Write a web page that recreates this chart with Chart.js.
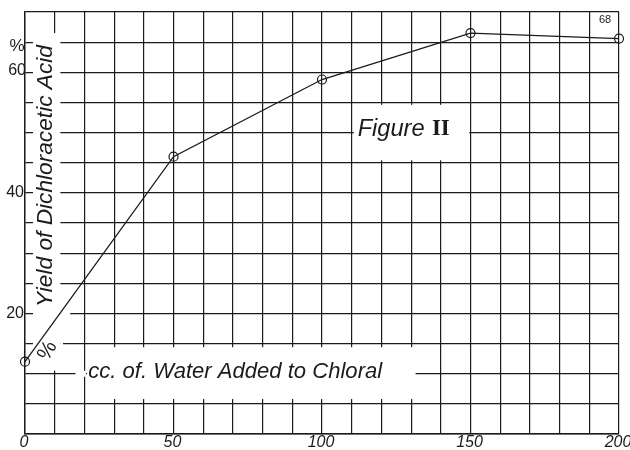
<!DOCTYPE html>
<html><head><meta charset="utf-8">
<script src="https://cdn.jsdelivr.net/npm/chart.js@4/dist/chart.umd.min.js"></script>
<style>html,body{margin:0;padding:0;background:#fff;}#wrap{width:630px;height:450px;position:relative;}</style>
</head><body><div id="wrap"><canvas id="c"></canvas></div>
<script>
// ---- data ----
const waterAdded = [0, 50, 100, 150, 200];          // cc. of water added to chloral
const yieldPct   = [12, 46, 58.8, 66.5, 65.6];      // % yield of dichloracetic acid
const xTickValues = [0, 50, 100, 150, 200];
const xTickLabels = ['0', '50', '100', '150', '200'];
const yTickValues = [20, 40, 60];
const yTickLabels = ['20', '40', '60'];
const yTitle = 'Yield of Dichloracetic Acid';
const xTitle = 'cc. of. Water Added to Chloral';
const figWord = 'Figure';
const figNumeral = 'II';
const cornerLabel = '68';
const percentSign = '%';

const INK = '#1b1b1b';
const HAND = '"Liberation Sans", "DejaVu Sans", sans-serif';

function fitFont(ctx, text, style, family, width) {
  ctx.font = style + ' 20px ' + family;
  const w = ctx.measureText(text).width;
  const size = 20 * width / w;
  ctx.font = style + ' ' + size.toFixed(2) + 'px ' + family;
  return size;
}

const paper = {
  id: 'paper',
  beforeDatasetsDraw(chart) {
    const { ctx, scales: { x, y } } = chart;
    ctx.save();
    ctx.fillStyle = '#fff';
    const blank = (x0, x1, y0, y1) => {
      const px0 = x.getPixelForValue(x0), px1 = x.getPixelForValue(x1);
      const py0 = y.getPixelForValue(y1), py1 = y.getPixelForValue(y0);
      ctx.fillRect(px0, py0, px1 - px0, py1 - py0);
    };
    blank(2.7, 11.9, 13.2, 66.5);   // band behind the vertical axis title
    blank(11.9, 15.2, 19.5, 20.5);
    blank(11.9, 12.8, 14.5, 15.5);
    blank(8.5, 11.9, 10.5, 13.3);
    blank(17, 20.5, 9.5, 10.5);
    blank(20.9, 131.5, 5.8, 14.4);  // box of the x title
    blank(110.7, 149.6, 45.4, 54.6); // box of "Figure II"
    ctx.restore();
  },
  afterDraw(chart) {
    const { ctx, chartArea, scales: { x, y } } = chart;
    ctx.save();
    ctx.fillStyle = INK;
    // y tick labels
    ctx.font = '16px ' + HAND;
    ctx.textAlign = 'right';
    ctx.textBaseline = 'middle';
    yTickValues.forEach((v, i) => {
      const dy = v === 60 ? -2 : 0;
      ctx.fillText(yTickLabels[i], chartArea.left - 1 + (v === 60 ? 2 : 0), y.getPixelForValue(v) + dy);
    });
    ctx.font = '17px ' + HAND;
    ctx.textAlign = 'center';
    ctx.fillText(percentSign, chartArea.left - 8, y.getPixelForValue(64.3));
    // x tick labels
    ctx.font = 'italic 16px ' + HAND;
    ctx.textAlign = 'center';
    ctx.textBaseline = 'middle';
    xTickValues.forEach((v, i) => {
      ctx.fillText(xTickLabels[i], x.getPixelForValue(v) - 1, chartArea.bottom + 9);
    });
    // vertical axis title
    ctx.save();
    ctx.translate(x.getPixelForValue(7.1), y.getPixelForValue(42.8));
    ctx.rotate(-Math.PI / 2);
    fitFont(ctx, yTitle, 'italic', HAND, 262);
    ctx.textAlign = 'center';
    ctx.textBaseline = 'middle';
    ctx.fillText(yTitle, 0, 0);
    ctx.restore();
    // rotated percent sign
    ctx.save();
    ctx.translate(x.getPixelForValue(7.6), y.getPixelForValue(13.8));
    ctx.rotate(-Math.PI / 3);
    ctx.font = '21px ' + HAND;
    ctx.textAlign = 'center';
    ctx.textBaseline = 'middle';
    ctx.fillText(percentSign, 0, 0);
    ctx.restore();
    // x title
    fitFont(ctx, xTitle, 'italic', HAND, 294);
    ctx.textAlign = 'left';
    ctx.textBaseline = 'middle';
    ctx.fillText(xTitle, x.getPixelForValue(21.3), y.getPixelForValue(10.3));
    // Figure II
    fitFont(ctx, figWord, 'italic', HAND, 67);
    ctx.fillText(figWord, x.getPixelForValue(112), y.getPixelForValue(50.6));
    ctx.font = 'bold 23px "Liberation Serif", serif';
    ctx.textBaseline = 'middle';
    ctx.fillText(figNumeral, x.getPixelForValue(137.0), y.getPixelForValue(50.6));
    // corner label
    ctx.font = '11px ' + HAND;
    ctx.textAlign = 'center';
    ctx.fillText(cornerLabel, x.getPixelForValue(195.3), y.getPixelForValue(68.6));
    ctx.restore();
  }
};

const gridStyle = { color: INK, lineWidth: 1.2, drawTicks: false };

new Chart(document.getElementById('c'), {
  type: 'scatter',
  data: {
    datasets: [{
      data: waterAdded.map((v, i) => ({ x: v, y: yieldPct[i] })),
      showLine: true,
      borderColor: INK,
      borderWidth: 1.3,
      pointRadius: 4.5,
      pointBorderWidth: 1.2,
      pointBorderColor: INK,
      pointBackgroundColor: 'rgba(0,0,0,0)',
      tension: 0,
      clip: false
    }]
  },
  options: {
    responsive: true,
    maintainAspectRatio: false,
    animation: false,
    layout: { padding: { left: 25, right: 11, top: 12, bottom: 16 } },
    plugins: { legend: { display: false }, tooltip: { enabled: false } },
    scales: {
      x: {
        type: 'linear', min: 0, max: 200,
        ticks: { stepSize: 10, display: false },
        grid: gridStyle,
        border: { display: true, color: INK, width: 1.4 }
      },
      y: {
        type: 'linear', min: 0, max: 70,
        ticks: { stepSize: 5, display: false },
        grid: gridStyle,
        border: { display: true, color: INK, width: 1.4 }
      }
    }
  },
  plugins: [paper]
});
</script>
</body></html>
